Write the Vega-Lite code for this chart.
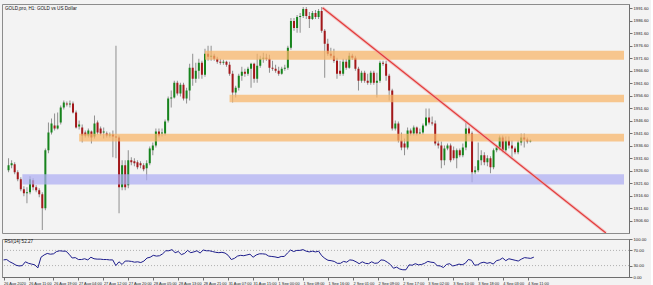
{
"$schema": "https://vega.github.io/schema/vega-lite/v6.json",
"background": "#f3f3f3",
"padding": {"left": 1, "top": 3, "right": 2, "bottom": 1},
"spacing": 2,
"config": {"view": {"stroke": "#8c8c8c", "strokeWidth": 1}, "font": "Liberation Sans", "axis": {"labelFont": "Liberation Sans", "labelFontSize": 4.2, "labelColor": "#222", "domainColor": "#6e6e6e", "tickColor": "#6e6e6e", "grid": false, "title": null, "labelOverlap": false}},
"datasets": {
"candles": [
{"i":0,"o":1926.8,"h":1931.6,"l":1926.0,"c":1928.8,"r":45},
{"i":1,"o":1928.8,"h":1930.8,"l":1927.6,"c":1929.6,"r":46},
{"i":2,"o":1929.2,"h":1930.0,"l":1925.2,"c":1926.0,"r":40},
{"i":3,"o":1926.0,"h":1926.8,"l":1922.4,"c":1923.2,"r":36},
{"i":4,"o":1923.2,"h":1924.0,"l":1918.4,"c":1919.2,"r":31},
{"i":5,"o":1919.2,"h":1920.4,"l":1916.4,"c":1917.6,"r":29},
{"i":6,"o":1917.6,"h":1920.0,"l":1913.6,"c":1918.0,"r":30},
{"i":7,"o":1918.0,"h":1924.4,"l":1917.2,"c":1923.2,"r":40},
{"i":8,"o":1922.8,"h":1923.6,"l":1918.8,"c":1920.0,"r":36},
{"i":9,"o":1920.0,"h":1920.8,"l":1918.0,"c":1918.8,"r":34},
{"i":10,"o":1918.8,"h":1919.6,"l":1916.0,"c":1917.2,"r":32},
{"i":11,"o":1917.2,"h":1918.0,"l":1902.9,"c":1911.6,"r":24},
{"i":12,"o":1911.6,"h":1935.5,"l":1910.8,"c":1934.8,"r":52},
{"i":13,"o":1934.8,"h":1945.9,"l":1933.6,"c":1941.9,"r":58},
{"i":14,"o":1941.9,"h":1947.5,"l":1941.1,"c":1945.5,"r":62},
{"i":15,"o":1944.7,"h":1949.5,"l":1942.7,"c":1943.5,"r":60},
{"i":16,"o":1943.5,"h":1949.9,"l":1943.1,"c":1944.7,"r":61},
{"i":17,"o":1945.9,"h":1952.7,"l":1945.1,"c":1951.9,"r":67},
{"i":18,"o":1951.9,"h":1954.7,"l":1951.1,"c":1953.9,"r":69},
{"i":19,"o":1953.5,"h":1954.3,"l":1952.3,"c":1953.1,"r":68},
{"i":20,"o":1953.1,"h":1954.7,"l":1951.9,"c":1953.5,"r":68},
{"i":21,"o":1953.5,"h":1954.3,"l":1949.5,"c":1949.9,"r":60},
{"i":22,"o":1949.9,"h":1950.7,"l":1943.5,"c":1943.9,"r":50},
{"i":23,"o":1944.3,"h":1946.7,"l":1943.1,"c":1945.1,"r":51},
{"i":24,"o":1943.9,"h":1945.1,"l":1937.9,"c":1940.7,"r":46},
{"i":25,"o":1941.9,"h":1942.7,"l":1939.9,"c":1940.7,"r":46},
{"i":26,"o":1940.7,"h":1943.5,"l":1939.9,"c":1942.7,"r":48},
{"i":27,"o":1942.3,"h":1942.7,"l":1937.5,"c":1939.9,"r":45},
{"i":28,"o":1940.3,"h":1948.7,"l":1939.5,"c":1945.5,"r":52},
{"i":29,"o":1945.9,"h":1946.7,"l":1941.1,"c":1941.9,"r":48},
{"i":30,"o":1943.5,"h":1944.3,"l":1940.7,"c":1941.5,"r":47},
{"i":31,"o":1941.9,"h":1943.9,"l":1939.5,"c":1942.3,"r":47},
{"i":32,"o":1941.5,"h":1942.3,"l":1939.9,"c":1940.7,"r":46},
{"i":33,"o":1940.7,"h":1941.9,"l":1939.9,"c":1941.1,"r":46},
{"i":34,"o":1941.1,"h":1942.7,"l":1932.0,"c":1940.3,"r":45},
{"i":35,"o":1940.3,"h":1976.6,"l":1931.6,"c":1939.9,"r":45},
{"i":36,"o":1939.9,"h":1940.7,"l":1909.6,"c":1920.0,"r":30},
{"i":37,"o":1920.0,"h":1930.8,"l":1918.8,"c":1928.8,"r":40},
{"i":38,"o":1928.8,"h":1930.8,"l":1918.8,"c":1920.0,"r":33},
{"i":39,"o":1920.8,"h":1934.8,"l":1919.6,"c":1930.8,"r":42},
{"i":40,"o":1930.8,"h":1932.0,"l":1928.8,"c":1930.0,"r":42},
{"i":41,"o":1930.4,"h":1931.6,"l":1928.4,"c":1929.6,"r":41},
{"i":42,"o":1930.0,"h":1930.8,"l":1927.2,"c":1928.0,"r":39},
{"i":43,"o":1929.6,"h":1930.4,"l":1927.6,"c":1928.8,"r":40},
{"i":44,"o":1928.8,"h":1929.6,"l":1926.4,"c":1927.2,"r":38},
{"i":45,"o":1927.6,"h":1930.8,"l":1922.8,"c":1929.6,"r":42},
{"i":46,"o":1929.6,"h":1936.3,"l":1928.8,"c":1935.5,"r":50},
{"i":47,"o":1934.8,"h":1937.9,"l":1932.8,"c":1936.7,"r":52},
{"i":48,"o":1936.7,"h":1943.5,"l":1935.9,"c":1942.3,"r":57},
{"i":49,"o":1942.3,"h":1943.5,"l":1939.9,"c":1940.7,"r":55},
{"i":50,"o":1941.5,"h":1943.5,"l":1940.3,"c":1941.9,"r":56},
{"i":51,"o":1941.5,"h":1947.1,"l":1940.7,"c":1946.3,"r":61},
{"i":52,"o":1946.7,"h":1956.3,"l":1945.9,"c":1955.5,"r":69},
{"i":53,"o":1955.5,"h":1958.7,"l":1951.9,"c":1955.9,"r":69},
{"i":54,"o":1955.9,"h":1962.6,"l":1955.5,"c":1961.8,"r":72},
{"i":55,"o":1961.8,"h":1962.6,"l":1956.7,"c":1957.5,"r":64},
{"i":56,"o":1957.5,"h":1961.8,"l":1956.3,"c":1961.0,"r":67},
{"i":57,"o":1961.0,"h":1961.8,"l":1954.7,"c":1955.5,"r":59},
{"i":58,"o":1955.5,"h":1959.8,"l":1953.5,"c":1958.7,"r":62},
{"i":59,"o":1958.7,"h":1969.4,"l":1954.7,"c":1967.8,"r":70},
{"i":60,"o":1967.8,"h":1973.4,"l":1960.6,"c":1963.4,"r":64},
{"i":61,"o":1963.4,"h":1969.8,"l":1961.8,"c":1966.6,"r":66},
{"i":62,"o":1966.6,"h":1971.4,"l":1963.4,"c":1969.8,"r":69},
{"i":63,"o":1969.8,"h":1970.6,"l":1963.4,"c":1965.0,"r":63},
{"i":64,"o":1965.0,"h":1975.4,"l":1964.2,"c":1973.4,"r":71},
{"i":65,"o":1973.4,"h":1976.6,"l":1970.6,"c":1972.2,"r":69},
{"i":66,"o":1972.2,"h":1976.6,"l":1970.6,"c":1972.6,"r":69},
{"i":67,"o":1972.6,"h":1973.4,"l":1970.6,"c":1971.4,"r":67},
{"i":68,"o":1971.4,"h":1972.2,"l":1969.4,"c":1970.2,"r":65},
{"i":69,"o":1970.2,"h":1971.4,"l":1969.0,"c":1969.8,"r":64},
{"i":70,"o":1969.8,"h":1971.0,"l":1969.0,"c":1970.2,"r":65},
{"i":71,"o":1970.2,"h":1970.6,"l":1968.2,"c":1969.0,"r":63},
{"i":72,"o":1969.0,"h":1970.2,"l":1964.6,"c":1965.4,"r":57},
{"i":73,"o":1965.4,"h":1966.6,"l":1953.9,"c":1957.9,"r":46},
{"i":74,"o":1957.9,"h":1960.6,"l":1955.9,"c":1959.8,"r":49},
{"i":75,"o":1959.8,"h":1965.4,"l":1958.7,"c":1964.6,"r":55},
{"i":76,"o":1964.6,"h":1968.2,"l":1962.6,"c":1966.2,"r":57},
{"i":77,"o":1966.2,"h":1967.4,"l":1964.2,"c":1965.4,"r":56},
{"i":78,"o":1965.4,"h":1968.2,"l":1964.6,"c":1967.4,"r":58},
{"i":79,"o":1967.4,"h":1969.8,"l":1959.8,"c":1969.4,"r":60},
{"i":80,"o":1969.4,"h":1969.8,"l":1961.8,"c":1963.4,"r":52},
{"i":81,"o":1963.4,"h":1973.4,"l":1961.8,"c":1968.6,"r":58},
{"i":82,"o":1968.6,"h":1972.6,"l":1967.8,"c":1971.4,"r":61},
{"i":83,"o":1971.4,"h":1973.8,"l":1969.8,"c":1971.8,"r":61},
{"i":84,"o":1971.8,"h":1973.4,"l":1970.6,"c":1971.4,"r":60},
{"i":85,"o":1971.4,"h":1973.0,"l":1965.8,"c":1967.8,"r":55},
{"i":86,"o":1967.8,"h":1970.6,"l":1966.6,"c":1967.4,"r":54},
{"i":87,"o":1967.4,"h":1969.0,"l":1965.8,"c":1966.6,"r":53},
{"i":88,"o":1966.6,"h":1968.2,"l":1964.6,"c":1965.4,"r":51},
{"i":89,"o":1965.4,"h":1968.2,"l":1965.0,"c":1967.4,"r":54},
{"i":90,"o":1967.4,"h":1969.0,"l":1966.6,"c":1967.8,"r":54},
{"i":91,"o":1967.8,"h":1976.6,"l":1967.0,"c":1975.8,"r":63},
{"i":92,"o":1975.8,"h":1987.7,"l":1975.0,"c":1986.5,"r":71},
{"i":93,"o":1986.5,"h":1987.7,"l":1982.6,"c":1983.7,"r":67},
{"i":94,"o":1983.7,"h":1988.9,"l":1981.8,"c":1988.1,"r":70},
{"i":95,"o":1988.1,"h":1989.7,"l":1981.8,"c":1988.5,"r":70},
{"i":96,"o":1988.5,"h":1992.1,"l":1987.7,"c":1991.3,"r":72},
{"i":97,"o":1991.3,"h":1992.1,"l":1987.3,"c":1988.5,"r":68},
{"i":98,"o":1988.5,"h":1990.1,"l":1983.7,"c":1987.3,"r":66},
{"i":99,"o":1987.3,"h":1990.5,"l":1986.9,"c":1989.7,"r":68},
{"i":100,"o":1989.7,"h":1990.9,"l":1987.3,"c":1988.1,"r":66},
{"i":101,"o":1988.1,"h":1991.3,"l":1987.3,"c":1990.5,"r":68},
{"i":102,"o":1990.5,"h":1992.1,"l":1981.8,"c":1982.6,"r":56},
{"i":103,"o":1982.6,"h":1983.3,"l":1963.8,"c":1977.4,"r":49},
{"i":104,"o":1977.4,"h":1979.4,"l":1972.6,"c":1973.4,"r":44},
{"i":105,"o":1973.4,"h":1975.8,"l":1971.8,"c":1972.6,"r":43},
{"i":106,"o":1972.6,"h":1975.4,"l":1969.8,"c":1970.6,"r":41},
{"i":107,"o":1970.6,"h":1971.8,"l":1963.4,"c":1965.4,"r":36},
{"i":108,"o":1966.6,"h":1970.6,"l":1964.6,"c":1965.4,"r":36},
{"i":109,"o":1965.4,"h":1971.4,"l":1964.6,"c":1970.2,"r":41},
{"i":110,"o":1970.2,"h":1971.4,"l":1967.0,"c":1967.8,"r":39},
{"i":111,"o":1967.8,"h":1973.8,"l":1967.4,"c":1972.6,"r":45},
{"i":112,"o":1972.6,"h":1973.4,"l":1971.0,"c":1971.8,"r":44},
{"i":113,"o":1971.8,"h":1972.6,"l":1966.6,"c":1967.4,"r":40},
{"i":114,"o":1967.4,"h":1968.2,"l":1958.7,"c":1962.6,"r":35},
{"i":115,"o":1962.6,"h":1966.6,"l":1961.8,"c":1965.8,"r":40},
{"i":116,"o":1965.8,"h":1966.6,"l":1961.8,"c":1962.6,"r":36},
{"i":117,"o":1962.6,"h":1965.4,"l":1961.0,"c":1961.8,"r":35},
{"i":118,"o":1961.8,"h":1966.6,"l":1961.0,"c":1965.8,"r":40},
{"i":119,"o":1965.8,"h":1966.6,"l":1961.0,"c":1961.8,"r":36},
{"i":120,"o":1961.8,"h":1965.8,"l":1955.9,"c":1962.6,"r":37},
{"i":121,"o":1962.6,"h":1970.6,"l":1961.8,"c":1969.8,"r":45},
{"i":122,"o":1969.8,"h":1970.6,"l":1968.6,"c":1969.4,"r":44},
{"i":123,"o":1969.4,"h":1970.6,"l":1962.6,"c":1964.6,"r":39},
{"i":124,"o":1964.6,"h":1965.4,"l":1954.7,"c":1958.7,"r":33},
{"i":125,"o":1958.7,"h":1959.4,"l":1942.7,"c":1943.5,"r":23},
{"i":126,"o":1943.5,"h":1946.7,"l":1942.7,"c":1945.5,"r":26},
{"i":127,"o":1945.5,"h":1946.3,"l":1937.9,"c":1938.7,"r":21},
{"i":128,"o":1938.7,"h":1941.9,"l":1934.8,"c":1935.9,"r":19},
{"i":129,"o":1937.5,"h":1939.5,"l":1932.8,"c":1935.9,"r":19},
{"i":130,"o":1935.9,"h":1943.9,"l":1935.1,"c":1942.7,"r":32},
{"i":131,"o":1942.7,"h":1943.5,"l":1940.7,"c":1941.5,"r":31},
{"i":132,"o":1941.5,"h":1944.7,"l":1940.7,"c":1943.9,"r":35},
{"i":133,"o":1943.9,"h":1944.3,"l":1940.7,"c":1941.5,"r":32},
{"i":134,"o":1941.5,"h":1943.5,"l":1941.1,"c":1941.9,"r":33},
{"i":135,"o":1941.9,"h":1945.5,"l":1941.1,"c":1944.7,"r":36},
{"i":136,"o":1944.7,"h":1951.5,"l":1944.3,"c":1947.9,"r":41},
{"i":137,"o":1947.9,"h":1951.5,"l":1945.1,"c":1945.9,"r":39},
{"i":138,"o":1945.9,"h":1948.3,"l":1944.7,"c":1945.5,"r":38},
{"i":139,"o":1945.5,"h":1946.7,"l":1936.7,"c":1937.5,"r":30},
{"i":140,"o":1937.5,"h":1938.7,"l":1935.5,"c":1936.7,"r":29},
{"i":141,"o":1936.7,"h":1938.3,"l":1927.6,"c":1930.8,"r":25},
{"i":142,"o":1930.8,"h":1936.7,"l":1928.8,"c":1935.5,"r":33},
{"i":143,"o":1935.5,"h":1937.5,"l":1934.8,"c":1936.7,"r":35},
{"i":144,"o":1936.7,"h":1937.5,"l":1930.0,"c":1930.8,"r":29},
{"i":145,"o":1934.8,"h":1936.3,"l":1930.8,"c":1931.6,"r":31},
{"i":146,"o":1931.6,"h":1935.5,"l":1927.6,"c":1934.8,"r":34},
{"i":147,"o":1934.8,"h":1935.5,"l":1932.0,"c":1932.8,"r":32},
{"i":148,"o":1932.8,"h":1937.5,"l":1932.0,"c":1935.9,"r":36},
{"i":149,"o":1935.9,"h":1945.9,"l":1934.8,"c":1943.5,"r":46},
{"i":150,"o":1943.5,"h":1944.3,"l":1940.7,"c":1941.5,"r":44},
{"i":151,"o":1941.5,"h":1942.3,"l":1922.0,"c":1926.0,"r":31},
{"i":152,"o":1926.0,"h":1928.4,"l":1925.2,"c":1926.8,"r":32},
{"i":153,"o":1926.8,"h":1937.9,"l":1926.0,"c":1930.8,"r":37},
{"i":154,"o":1930.8,"h":1934.8,"l":1928.8,"c":1932.8,"r":39},
{"i":155,"o":1932.8,"h":1934.0,"l":1928.8,"c":1930.0,"r":36},
{"i":156,"o":1930.0,"h":1932.8,"l":1928.4,"c":1931.6,"r":38},
{"i":157,"o":1931.6,"h":1932.4,"l":1925.6,"c":1928.0,"r":34},
{"i":158,"o":1928.0,"h":1935.5,"l":1927.2,"c":1934.8,"r":43},
{"i":159,"o":1934.8,"h":1936.7,"l":1934.0,"c":1935.9,"r":45},
{"i":160,"o":1935.9,"h":1940.7,"l":1934.8,"c":1939.9,"r":50},
{"i":161,"o":1939.9,"h":1940.7,"l":1934.0,"c":1934.8,"r":43},
{"i":162,"o":1934.8,"h":1940.3,"l":1934.0,"c":1938.7,"r":48},
{"i":163,"o":1938.7,"h":1940.3,"l":1935.5,"c":1936.7,"r":46},
{"i":164,"o":1936.7,"h":1938.7,"l":1932.0,"c":1935.5,"r":44},
{"i":165,"o":1935.5,"h":1936.3,"l":1933.2,"c":1934.0,"r":42},
{"i":166,"o":1934.0,"h":1938.7,"l":1933.2,"c":1937.9,"r":47},
{"i":167,"o":1937.9,"h":1941.5,"l":1936.7,"c":1939.9,"r":51},
{"i":168,"o":1939.9,"h":1941.5,"l":1935.9,"c":1939.1,"r":50},
{"i":169,"o":1939.1,"h":1939.9,"l":1937.5,"c":1938.3,"r":49},
{"i":170,"o":1938.3,"h":1939.1,"l":1937.9,"c":1938.7,"r":52.27}
],
"zones": [
{"s":64,"top":1974.6,"bot":1971.0,"z":"orange"},
{"s":72,"top":1957.0,"bot":1954.0,"z":"orange"},
{"s":23,"top":1941.4,"bot":1938.3,"z":"orange"},
{"s":4.5,"top":1925.2,"bot":1921.1,"z":"blue"}
],
"trend": [
{"i":102.3,"p":1991.8},
{"i":194.6,"p":1901.7}
],
"levels": [{"v":70},{"v":30}]
},
"vconcat": [
{
"width": 627,
"height": 229,
"title": {"text": "GOLD,pro, H1:  GOLD vs US Dollar", "anchor": "start", "orient": "top", "offset": -7, "dx": 3, "fontSize": 4.6, "fontWeight": "normal", "color": "#111", "font": "Liberation Sans"},
"layer": [
{
"data": {"name": "candles"},
"mark": {"type": "rule", "color": "#8f8f8f", "strokeWidth": 1},
"encoding": {
"x": {"field": "i", "type": "quantitative", "scale": {"domain": [-0.5, 200.5], "nice": false, "zero": false}, "axis": null},
"y": {"field": "l", "type": "quantitative", "scale": {"domain": [1901.7, 1993.3], "nice": false, "zero": false}, "axis": {"orient": "right", "values": [1906.6,1911.6,1916.6,1921.6,1926.6,1931.6,1936.6,1941.6,1946.6,1951.6,1956.6,1961.6,1966.6,1971.6,1976.6,1981.6,1986.6,1991.6], "tickCount": 40, "format": ".2f", "tickSize": 3, "labelPadding": 1, "domain": true, "labelOverlap": false, "labelBound": false, "labelFontSize": 4.2}},
"y2": {"field": "h"}
}
},
{
"data": {"name": "candles"},
"mark": {"type": "bar", "size": 2},
"encoding": {
"x": {"field": "i", "type": "quantitative"},
"y": {"field": "o", "type": "quantitative"},
"y2": {"field": "c"},
"color": {"condition": {"test": "datum.c >= datum.o", "value": "#16841c"}, "value": "#a3171a"}
}
},
{
"data": {"name": "zones"},
"mark": {"type": "rect", "opacity": 0.72},
"encoding": {
"x": {"field": "s", "type": "quantitative"},
"x2": {"datum": 200.5},
"y": {"field": "top", "type": "quantitative"},
"y2": {"field": "bot"},
"color": {"field": "z", "type": "nominal", "scale": {"domain": ["orange", "blue"], "range": ["#f8b466", "#adadf2"]}, "legend": null}
}
},
{
"data": {"name": "trend"},
"mark": {"type": "line", "color": "#f2a5a5", "strokeWidth": 3, "opacity": 0.6, "clip": true},
"encoding": {"x": {"field": "i", "type": "quantitative"}, "y": {"field": "p", "type": "quantitative"}}
},
{
"data": {"name": "trend"},
"mark": {"type": "line", "color": "#e23a3a", "strokeWidth": 1.2, "clip": true},
"encoding": {"x": {"field": "i", "type": "quantitative"}, "y": {"field": "p", "type": "quantitative"}}
}
]
},
{
"width": 627,
"height": 38,
"title": {"text": "RSI(14) 52.27", "anchor": "start", "orient": "top", "offset": -7, "dx": 3, "fontSize": 4.6, "fontWeight": "normal", "color": "#111", "font": "Liberation Sans"},
"layer": [
{
"data": {"name": "levels"},
"mark": {"type": "rule", "color": "#b0b0b0", "strokeWidth": 1, "strokeDash": [1, 2]},
"encoding": {"y": {"field": "v", "type": "quantitative", "scale": {"domain": [0, 100], "nice": false}, "axis": {"orient": "right", "values": [0, 30, 70, 100], "tickCount": 20, "format": ".2f", "tickSize": 3, "labelPadding": 1, "labelOverlap": false, "labelBound": false, "labelFontSize": 4.2}}}
},
{
"data": {"name": "candles"},
"mark": {"type": "line", "color": "#1c1c8c", "strokeWidth": 1},
"encoding": {
"x": {"field": "i", "type": "quantitative", "scale": {"domain": [-0.5, 200.5], "nice": false, "zero": false}, "axis": {"orient": "bottom", "values": [0,8,16,24,32,40,48,56,64,72,80,88,96,104,112,120,128,136,144,152,160,168], "tickCount": 60, "labelExpr": "['26 Aug 2020','26 Aug 11:00','26 Aug 19:00','27 Aug 04:00','27 Aug 12:00','27 Aug 20:00','28 Aug 05:00','28 Aug 13:00','28 Aug 21:00','31 Aug 07:00','31 Aug 15:00','1 Sep 00:00','1 Sep 08:00','1 Sep 16:00','2 Sep 01:00','2 Sep 09:00','2 Sep 17:00','3 Sep 02:00','3 Sep 10:00','3 Sep 18:00','4 Sep 03:00','4 Sep 11:00'][round(datum.value/8)]", "labelAlign": "left", "labelPadding": 1, "tickSize": 3, "labelFlush": false, "labelOverlap": false, "labelFontSize": 3.9}},
"y": {"field": "r", "type": "quantitative"}
}
}
]
}
]
}
